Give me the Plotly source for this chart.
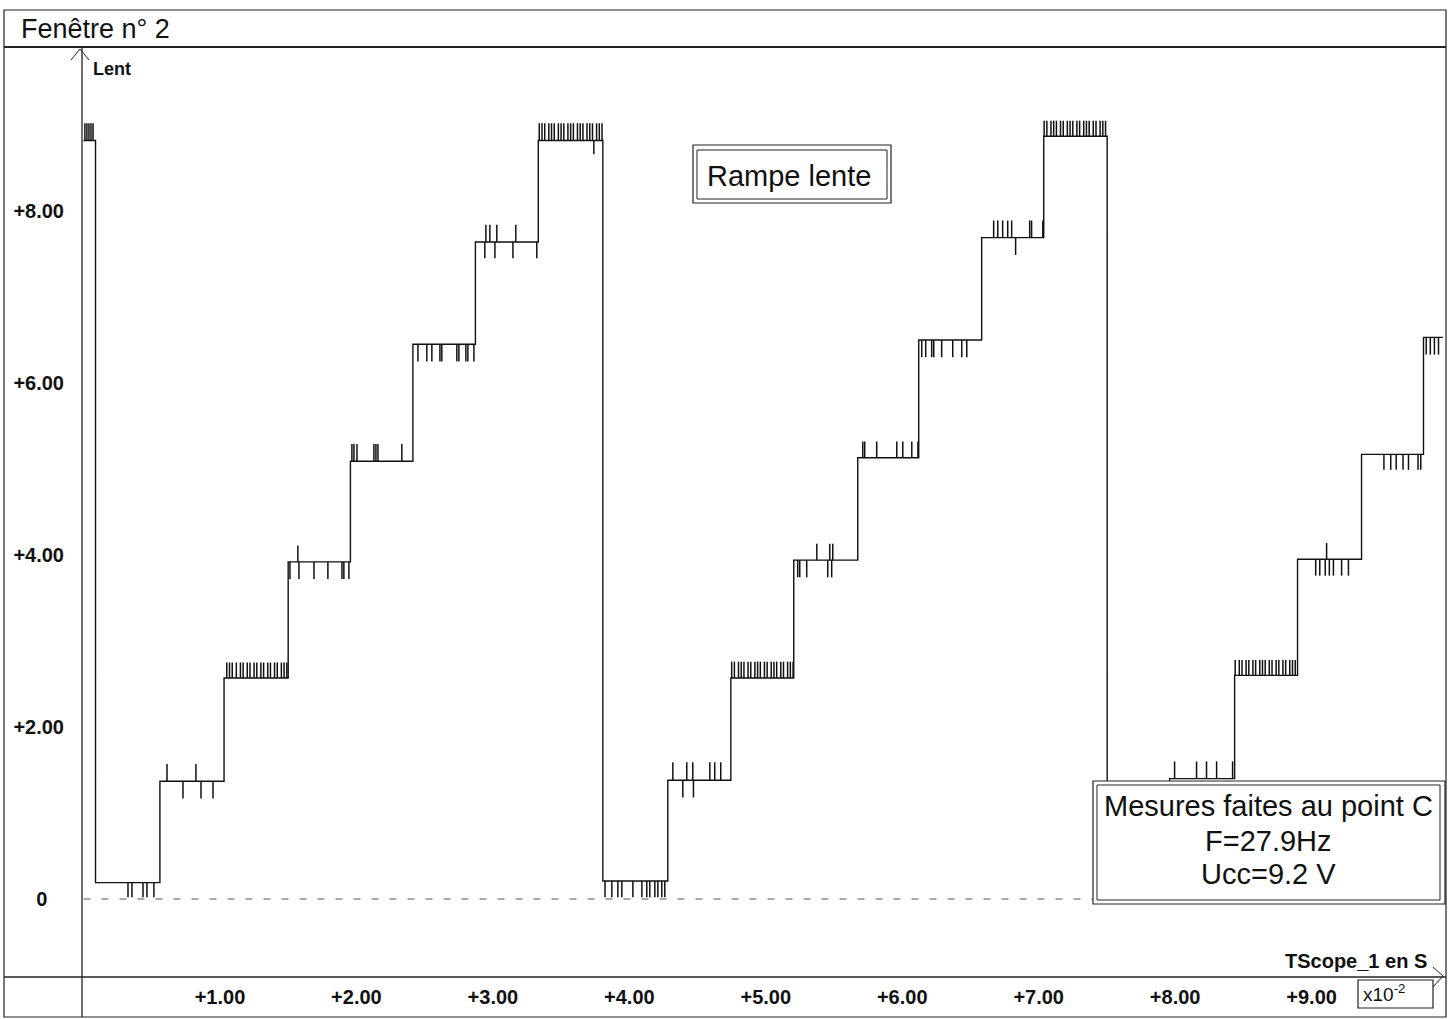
import plotly.graph_objects as go
from bisect import bisect_right

# ---------------- data (time in 1e-2 s, voltage in V) ----------------
# staircase: value step_v[i] holds from step_t[i] until step_t[i+1]
step_t = [0.0, 0.088, 0.56, 1.03, 1.50, 1.956, 2.414, 2.872, 3.333, 3.806,
          4.282, 4.744, 5.205, 5.674, 6.121, 6.582, 7.037, 7.502,
          7.960, 8.436, 8.897, 9.366, 9.820]
step_v = [8.82, 0.19, 1.37, 2.57, 3.92, 5.09, 6.45, 7.64, 8.82,
          0.21, 1.38, 2.57, 3.94, 5.13, 6.50, 7.69, 8.87,
          0.20, 1.40, 2.60, 3.95, 5.17, 6.53]
t_end = 9.963

# glitches seen on the plateaus: time and excursion from the plateau (V)
glitch_t = [
    0.01, 0.025, 0.04, 0.055, 0.07,
    0.326, 0.355, 0.436, 0.465, 0.516,
    0.612, 0.824, 0.729, 0.861, 0.949,
    1.05, 1.07, 1.09, 1.12, 1.15, 1.17, 1.20, 1.22, 1.25, 1.27, 1.30, 1.32,
    1.35, 1.37, 1.40, 1.42, 1.45, 1.47, 1.49,
    1.571, 1.513, 1.579, 1.689, 1.791, 1.894, 1.908, 1.945,
    1.967, 1.982, 2.004, 2.128, 2.143, 2.158, 2.333,
    2.451, 2.516, 2.553, 2.612, 2.626, 2.736, 2.751, 2.802, 2.817, 2.861,
    2.949, 2.978, 3.029, 3.168, 2.941, 3.015, 3.147, 3.322,
    3.34, 3.36, 3.38, 3.41, 3.43, 3.45, 3.48, 3.50, 3.52, 3.55, 3.57, 3.59,
    3.62, 3.64, 3.66, 3.69, 3.71, 3.73, 3.76, 3.78, 3.80, 3.74,
    3.822, 3.872, 3.916, 3.945, 4.026, 4.092, 4.128, 4.150, 4.187, 4.209,
    4.238, 4.260,
    4.319, 4.421, 4.465, 4.590, 4.626, 4.670, 4.392, 4.47,
    4.75, 4.77, 4.80, 4.82, 4.84, 4.87, 4.89, 4.92, 4.94, 4.96, 4.99, 5.01,
    5.04, 5.06, 5.08, 5.11, 5.13, 5.16, 5.18, 5.20,
    5.374, 5.469, 5.491, 5.234, 5.249, 5.300, 5.454, 5.483,
    5.711, 5.725, 5.813, 5.960, 6.004, 6.070, 6.115,
    6.143, 6.172, 6.216, 6.231, 6.289, 6.370, 6.436, 6.473,
    6.670, 6.700, 6.736, 6.773, 6.802, 6.934, 6.948, 7.030, 6.831,
    7.04, 7.06, 7.09, 7.11, 7.13, 7.16, 7.18, 7.21, 7.23, 7.25, 7.28, 7.30,
    7.33, 7.35, 7.37, 7.40, 7.42, 7.45, 7.47, 7.49,
    7.996, 8.157, 8.230, 8.304, 8.421,
    8.44, 8.47, 8.49, 8.52, 8.54, 8.57, 8.59, 8.62, 8.64, 8.66, 8.69, 8.71,
    8.74, 8.76, 8.79, 8.81, 8.84, 8.86, 8.88,
    9.03, 9.06, 9.10, 9.13, 9.16, 9.22, 9.27, 9.11,
    9.53, 9.58, 9.62, 9.67, 9.71, 9.78, 9.80,
    9.84, 9.87, 9.90, 9.93,
]
glitch_dv = (
    [0.2] * 5
    + [-0.17] * 5
    + [0.2, 0.2, -0.2, -0.2, -0.2]
    + [0.18] * 19
    + [0.19] + [-0.2] * 7
    + [0.2] * 7
    + [-0.2] * 10
    + [0.2] * 4 + [-0.19] * 4
    + [0.2] * 21 + [-0.16]
    + [-0.19] * 12
    + [0.21] * 6 + [-0.2] * 2
    + [0.19] * 20
    + [0.19] * 3 + [-0.2] * 5
    + [0.19] * 7
    + [-0.2] * 8
    + [0.2] * 8 + [-0.2]
    + [0.18] * 20
    + [0.2] * 5
    + [0.18] * 19
    + [-0.19] * 7 + [0.19]
    + [-0.18] * 7
    + [-0.2] * 4
)

x_ticks = [1, 2, 3, 4, 5, 6, 7, 8, 9]
x_ticktext = ["+1.00", "+2.00", "+3.00", "+4.00", "+5.00", "+6.00", "+7.00", "+8.00", "+9.00"]
y_ticks = [0, 2, 4, 6, 8]
y_ticktext = ["0\u00a0\u00a0\u00a0", "+2.00", "+4.00", "+6.00", "+8.00"]

# ---------------- build traces ----------------
wx = step_t + [t_end]
wy = step_v + [step_v[-1]]

gx, gy = [], []
for t, dv in zip(glitch_t, glitch_dv):
    lvl = step_v[bisect_right(step_t, t) - 1]
    gx += [t, t, None]
    gy += [lvl, lvl + dv, None]

W, H = 1450, 1019
def X(px):
    return px / W
def Y(py):
    return 1 - py / H

FONT = "Liberation Sans, Arial, sans-serif"

fig = go.Figure()
fig.add_trace(go.Scatter(x=gx, y=gy, mode="lines",
                         line=dict(color="#111111", width=1.5),
                         hoverinfo="skip", showlegend=False))
fig.add_trace(go.Scatter(x=wx, y=wy, mode="lines", line_shape="hv",
                         line=dict(color="#111111", width=1.4),
                         showlegend=False))

shapes = []
def line(x0, y0, x1, y1, w=1.2, color="#222", dash=None):
    d = dict(type="line", xref="paper", yref="paper",
             x0=X(x0), y0=Y(y0), x1=X(x1), y1=Y(y1),
             line=dict(color=color, width=w), layer="above")
    if dash:
        d["line"]["dash"] = dash
    shapes.append(d)

def rect(x0, y0, x1, y1, w=1.2, fill=None):
    shapes.append(dict(type="rect", xref="paper", yref="paper",
                       x0=X(x0), y0=Y(y0), x1=X(x1), y1=Y(y1),
                       line=dict(color="#222", width=w),
                       fillcolor=fill if fill else "rgba(0,0,0,0)",
                       layer="above"))

# zero reference line (data coordinates)
shapes.append(dict(type="line", xref="x", yref="y", x0=0, x1=t_end, y0=0, y1=0,
                   line=dict(color="#555", width=1.2, dash="7px,11px"),
                   layer="below"))

# outer frame and title strip
rect(4, 10, 1446, 1017, w=1.2)
line(4, 47, 1446, 47, w=2)
# axes
line(82, 47, 82, 1017, w=1.3)
line(4, 977, 1446, 977, w=1.3)
# arrow heads
line(71, 60, 80, 49, w=1)
line(80, 49, 89, 60, w=1)
line(1433, 967, 1443, 976, w=1)
line(1433, 987, 1443, 976, w=1)

# "Rampe lente" box (double border)
rect(693, 145, 891, 203, w=1.2, fill="white")
rect(697, 150, 887, 199, w=1.0)
# measurement box (double border)
rect(1093, 781, 1445, 904, w=1.2, fill="white")
rect(1097, 785, 1440, 900, w=1.0)
# x10^-2 box
rect(1358, 980, 1433, 1008, w=1.2)

ann = []
def text(s, x, y, size, xanchor="center", bold=False):
    ann.append(dict(text=s, xref="paper", yref="paper", x=X(x), y=Y(y),
                    xanchor=xanchor, yanchor="middle", showarrow=False,
                    font=dict(family=FONT, size=size, color="#111",
                              weight="bold" if bold else "normal")))

text("Fenêtre n° 2", 19, 29, 27, xanchor="left")
text("Lent", 91, 69, 18, xanchor="left", bold=True)
text("Rampe lente", 789, 176, 29)
text("Mesures faites au point C", 1268, 806, 29)
text("F=27.9Hz", 1268, 841, 29)
text("Ucc=9.2 V", 1268, 874, 29)
text("TScope_1 en S", 1429, 961, 20, xanchor="right", bold=True)
text("x10<sup>-2</sup>", 1361, 993, 19, xanchor="left")

fig.update_layout(
    width=W, height=H,
    margin=dict(l=0, r=0, t=0, b=0),
    paper_bgcolor="white", plot_bgcolor="white",
    shapes=shapes, annotations=ann,
    xaxis=dict(domain=[X(82), X(1443)], range=[-0.011, 9.963],
               tickvals=x_ticks, ticktext=x_ticktext, ticks="",
               showgrid=False, zeroline=False, showline=False,
               ticklabelstandoff=6,
               tickfont=dict(family=FONT, size=20, color="#111", weight="bold")),
    yaxis=dict(domain=[Y(977), Y(48)], range=[(899 - 977) / 86, (899 - 48) / 86],
               tickvals=y_ticks, ticktext=y_ticktext, ticks="",
               showgrid=False, zeroline=False, showline=False,
               ticklabelstandoff=17,
               tickfont=dict(family=FONT, size=20, color="#111", weight="bold")),
    showlegend=False,
)

fig.write_html("out.html", config={"displayModeBar": False},
               post_script="document.body.style.margin='0';")
